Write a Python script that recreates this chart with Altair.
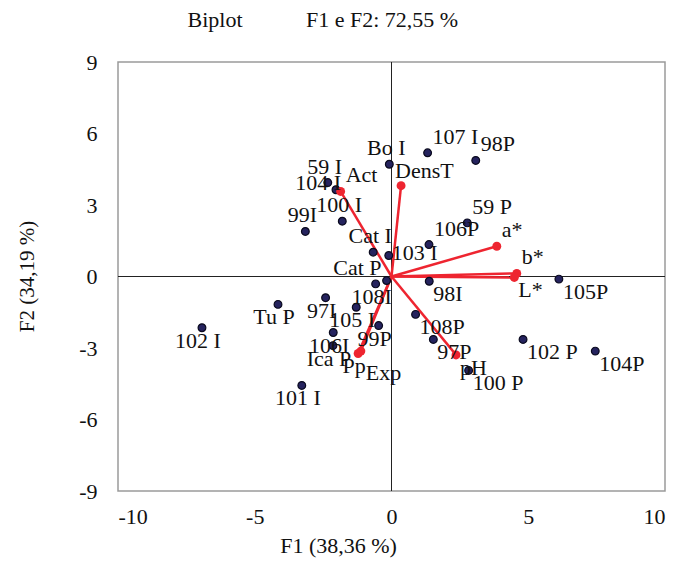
import altair as alt
import pandas as pd

# ---------------- data ----------------
obs_labels = ["Bo I", "107 I", "98P", "59 I", "104 I", "100 I", "99I", "Cat I",
              "103 I", "106P", "59 P", "Cat P", "108I", "98I", "105P", "108P",
              "97P", "100 P", "102 P", "104P", "Tu P", "97I", "105 I", "99P",
              "106I", "Ica P", "102 I", "101 I"]
obs_f1 = [-0.08, 1.32, 3.08, -2.33, -2.03, -1.80, -3.15, -0.67,
          -0.10, 1.37, 2.77, -0.18, -0.58, 1.38, 6.12, 0.88,
          1.53, 2.82, 4.81, 7.45, -4.15, -2.41, -1.29, -0.47,
          -2.13, -2.14, -6.93, -3.28]
obs_f2 = [4.71, 5.19, 4.87, 3.94, 3.64, 2.32, 1.89, 1.02,
          0.88, 1.34, 2.25, -0.17, -0.31, -0.20, -0.11, -1.59,
          -2.64, -3.94, -2.64, -3.13, -1.17, -0.89, -1.29, -2.06,
          -2.35, -2.90, -2.15, -4.57]
obs_place = ["t", "tr", "tr", "t", "l", "t", "t", "t",
             "r", "tr", "tr", "tl", "b", "br", "br", "br",
             "br", "br", "br", "br", "b", "b", "b", "b",
             "b", "b", "b", "b"]

var_labels = ["Act", "DensT", "a*", "b*", "L*", "pH", "Pp", "Exp"]
var_f1 = [-1.86, 0.35, 3.85, 4.58, 4.49, 2.36, -1.22, -1.12]
var_f2 = [3.57, 3.81, 1.27, 0.13, -0.04, -3.29, -3.23, -3.13]
var_place = ["tr", "tv", "tr", "tr", "br", "br", "b", "bb"]

x_ticks = [-10, -5, 0, 5, 10]
y_ticks = [-9, -6, -3, 0, 3, 6, 9]

title_left = "Biplot"
title_right = "F1 e F2: 72,55 %"
x_title = "F1 (38,36 %)"
y_title = "F2 (34,19 %)"

# ---------------- tables ----------------
obs = pd.DataFrame({"label": obs_labels, "F1": obs_f1, "F2": obs_f2, "place": obs_place})
var = pd.DataFrame({"label": var_labels, "F1": var_f1, "F2": var_f2, "place": var_place})
var["O1"] = 0.0
var["O2"] = 0.0
labels = pd.concat([obs, var[["label", "F1", "F2", "place"]]], ignore_index=True)

FONT = "Liberation Serif"
FS = 22
W, H = 547, 429

xs = alt.Scale(domain=[-10, 10], nice=False, zero=False)
ys = alt.Scale(domain=[-9, 9], nice=False, zero=False)

base_axis = dict(grid=False, ticks=False, domain=False, labelFont=FONT,
                 labelFontSize=FS, labelColor="#111111", titleFont=FONT,
                 titleFontWeight="normal", titleColor="#111111",
                 labelExpr="'' + datum.value")

xax = alt.Axis(values=x_ticks, labelPadding=15, title=x_title,
               titleX=220, titleY=54, titleAlign="center", titleBaseline="middle",
               titleFontSize=FS, **base_axis)
yax = alt.Axis(values=y_ticks, labelPadding=21, title=y_title,
               titleX=-91, titleY=214, titleAngle=-90, titleAlign="center",
               titleBaseline="middle", titleFontSize=21, **base_axis)

zero_df = pd.DataFrame({"z": [0.0]})
vline = alt.Chart(zero_df).mark_rule(color="#222222", strokeWidth=1).encode(
    x=alt.X("z:Q", scale=xs, axis=xax))
hline = alt.Chart(zero_df).mark_rule(color="#222222", strokeWidth=1).encode(
    y=alt.Y("z:Q", scale=ys, axis=yax))

arrows = alt.Chart(var).mark_rule(color="#ee2530", strokeWidth=2.5).encode(
    x=alt.X("O1:Q", scale=xs), y=alt.Y("O2:Q", scale=ys),
    x2="F1:Q", y2="F2:Q")
arrow_ends = alt.Chart(var).mark_circle(color="#ee2530", size=80, opacity=1).encode(
    x=alt.X("F1:Q", scale=xs), y=alt.Y("F2:Q", scale=ys))

points = alt.Chart(obs).mark_point(shape="circle", filled=True, size=60,
                                   fill="#25235e", stroke="#0a0a1e",
                                   strokeWidth=1.2, opacity=1).encode(
    x=alt.X("F1:Q", scale=xs), y=alt.Y("F2:Q", scale=ys))

# label placement styles: code -> (dx, dy, align)
offsets = {
    "t": (-3, -16, "center"),
    "tr": (5, -16, "left"),
    "tv": (-6, -15, "left"),
    "b": (-4, 13, "center"),
    "br": (4, 13, "left"),
    "bb": (5, 22, "left"),
    "l": (5, -7, "right"),
    "r": (3, -3, "left"),
    "tl": (-5, -13, "right"),
}

text_layers = []
for code, (dx, dy, al) in offsets.items():
    text_layers.append(
        alt.Chart(labels).transform_filter(alt.datum.place == code)
        .mark_text(font=FONT, fontSize=FS, color="#111111", dx=dx, dy=dy,
                   align=al, baseline="middle")
        .encode(x=alt.X("F1:Q", scale=xs), y=alt.Y("F2:Q", scale=ys), text="label:N")
    )

title1 = alt.Chart(pd.DataFrame({"t": [title_left]})).mark_text(
    font=FONT, fontSize=FS, color="#111111", align="center", baseline="middle").encode(
    text="t:N", x=alt.value(97), y=alt.value(-42))
title2 = alt.Chart(pd.DataFrame({"t": [title_right]})).mark_text(
    font=FONT, fontSize=FS, color="#111111", align="center", baseline="middle").encode(
    text="t:N", x=alt.value(264), y=alt.value(-42))

chart = alt.layer(
    vline, hline, arrows, points, arrow_ends, *text_layers, title1, title2
).properties(
    width=W, height=H,
    background="white",
    autosize=alt.AutoSizeParams(type="none"),
    padding={"left": 110, "top": 54, "right": 3, "bottom": 70},
).configure_view(
    stroke="#9a9a9a", strokeWidth=1.5
)

chart.save("out.html", embed_options={"renderer": "svg", "actions": False})
